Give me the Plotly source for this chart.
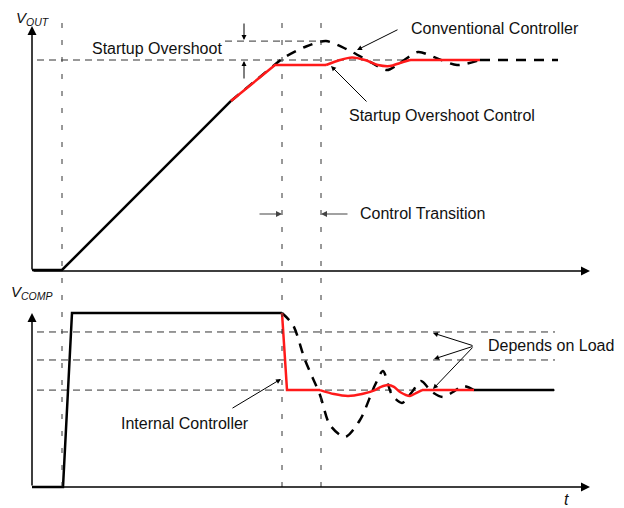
import plotly.graph_objects as go

# page window is 624x508; the browser body has an 8px margin, so the figure
# occupies the window from (8, 8) to (624, 508)
WIN_W, WIN_H = 624, 508
OFF = 8
W, H = WIN_W - OFF, WIN_H - OFF

# ---------------- data (t: arbitrary time units, voltages normalised) ----------------
# Top panel : V_OUT
t_out_startup = [0.0, 3.0, 19.9]
v_out_startup = [0.0, 0.0, 0.805]

t_out_ctrl_ramp = [19.9, 24.3, 29.4]
v_out_ctrl_ramp = [0.805, 0.976, 0.976]

t_out_ctrl_settle = [29.4, 30.8, 32.0, 33.3, 34.6, 35.8, 36.8, 37.8]
v_out_ctrl_settle = [0.976, 1.0, 1.012, 1.0, 0.976, 0.971, 0.986, 1.0]

t_out_ctrl_flat = [37.8, 44.8]
v_out_ctrl_flat = [1.0, 1.0]

t_out_conv = [19.9, 22.3, 25.3, 27.3, 29.4, 31.6, 34.0, 35.5, 36.8, 38.6, 40.4, 42.5, 44.8]
v_out_conv = [0.805, 0.9, 1.014, 1.062, 1.090, 1.048, 0.986, 0.952, 0.986, 1.038, 1.010, 0.976, 1.0]

t_out_conv_flat = [44.8, 52.6]
v_out_conv_flat = [1.0, 1.0]

out_levels = [1.0, 1.09]
out_level_spans = [[0.5, 44.8], [19.3, 29.0]]

# Bottom panel : V_COMP
t_comp_startup = [0.0, 3.1, 4.0, 25.0]
v_comp_startup = [0.0, 0.0, 1.0, 1.0]

t_comp_ctrl_drop = [25.0, 25.5, 28.8]
v_comp_ctrl_drop = [1.0, 0.557, 0.557]

t_comp_ctrl_settle = [28.8, 30.2, 31.6, 33.0, 34.3, 34.9, 35.6, 36.2, 36.8, 37.8, 38.4, 39.0]
v_comp_ctrl_settle = [0.557, 0.534, 0.523, 0.534, 0.557, 0.575, 0.586, 0.575, 0.546, 0.523, 0.540, 0.557]

t_comp_ctrl_flat = [39.0, 44.2]
v_comp_ctrl_flat = [0.557, 0.557]

t_comp_final = [44.2, 52.2]
v_comp_final = [0.557, 0.557]

t_comp_conv = [25.0, 26.1, 27.3, 28.8, 29.8, 31.3, 32.8, 34.3, 35.1, 36.0, 37.0, 38.0, 38.9, 40.0, 41.1, 42.1, 43.1, 44.2]
v_comp_conv = [1.0, 0.931, 0.730, 0.529, 0.356, 0.287, 0.385, 0.586, 0.667, 0.529, 0.483, 0.546, 0.609, 0.546, 0.517, 0.546, 0.580, 0.557]

comp_levels = [0.891, 0.730, 0.557]
comp_level_span = [0.5, 52.3]

event_times = [3.0, 25.0, 28.9]

# ---------------- layout helpers (pixel frame of the drawing) ----------------
X0_PX, PX_PER_T = 32, 10.0
OUT_ZERO_PX, OUT_UNIT_PX = 270, 210
COMP_ZERO_PX, COMP_UNIT_PX = 487, 174

x_range = [(OFF - X0_PX) / PX_PER_T, (WIN_W - X0_PX) / PX_PER_T]
y_out_range = [(OUT_ZERO_PX - WIN_H) / OUT_UNIT_PX, (OUT_ZERO_PX - OFF) / OUT_UNIT_PX]
y_comp_range = [(COMP_ZERO_PX - WIN_H) / COMP_UNIT_PX, (COMP_ZERO_PX - OFF) / COMP_UNIT_PX]


def P(px, py):
    return (px - OFF) / W, 1 - (py - OFF) / H


RED = "#ff1a1a"
BLK = "#000000"
REF = "#333333"
FONT = "Liberation Sans, Arial, Helvetica, sans-serif"

fig = go.Figure()

# reference dashed levels
for lvl, span in zip(out_levels, out_level_spans):
    fig.add_trace(go.Scatter(x=span, y=[lvl, lvl], mode="lines", yaxis="y",
                             line=dict(color=REF, width=1, dash="7px,5px"), hoverinfo="skip"))
for lvl in comp_levels:
    fig.add_trace(go.Scatter(x=comp_level_span, y=[lvl, lvl], mode="lines", yaxis="y2",
                             line=dict(color=REF, width=1, dash="7px,5px"), hoverinfo="skip"))

for te in event_times:
    fig.add_shape(type="line", xref="x", yref="paper", x0=te, x1=te,
                  y0=P(0, 487)[1], y1=P(0, 20)[1],
                  line=dict(color=REF, width=1, dash="5px,12px"))


def line(t, v, axis, color, width=2.5, dash="solid", shape="linear"):
    fig.add_trace(go.Scatter(x=t, y=v, mode="lines", yaxis=axis,
                             line=dict(color=color, width=width, dash=dash, shape=shape,
                                       smoothing=0.8),
                             hoverinfo="skip"))


# top panel curves
line(t_out_conv, v_out_conv, "y", BLK, dash="10px,8px", shape="spline")
line(t_out_conv_flat, v_out_conv_flat, "y", BLK, dash="10px,8px")
line(t_out_startup, v_out_startup, "y", BLK)
line(t_out_ctrl_ramp, v_out_ctrl_ramp, "y", RED)
line(t_out_ctrl_settle, v_out_ctrl_settle, "y", RED, shape="spline")
line(t_out_ctrl_flat, v_out_ctrl_flat, "y", RED)

# bottom panel curves
line(t_comp_conv, v_comp_conv, "y2", BLK, dash="10px,8px", shape="spline")
line(t_comp_startup, v_comp_startup, "y2", BLK)
line(t_comp_final, v_comp_final, "y2", BLK)
line(t_comp_ctrl_drop, v_comp_ctrl_drop, "y2", RED)
line(t_comp_ctrl_settle, v_comp_ctrl_settle, "y2", RED, shape="spline")
line(t_comp_ctrl_flat, v_comp_ctrl_flat, "y2", RED)

annotations = []


def arrow(tip, tail, color=BLK, width=1.0, head=2, size=1.0):
    x, y = P(*tip)
    annotations.append(dict(x=x, y=y, xref="paper", yref="paper", text="",
                            showarrow=True, ax=tail[0] - tip[0], ay=tail[1] - tip[1],
                            axref="pixel", ayref="pixel", arrowhead=head,
                            arrowsize=size, arrowwidth=width, arrowcolor=color,
                            standoff=0, startstandoff=0))


def label(px, py, text, size=16, anchor="left"):
    x, y = P(px, py)
    annotations.append(dict(x=x, y=y, xref="paper", yref="paper", text=text,
                            showarrow=False, xanchor=anchor, yanchor="middle",
                            font=dict(family=FONT, size=size, color="#111111")))


# axes arrows
arrow((32, 26), (32, 271), width=1.5, head=2, size=1.2)
arrow((590, 271), (32, 271), width=1.5, head=2, size=1.2)
arrow((32, 313), (32, 487), width=1.5, head=2, size=1.2)
arrow((590, 487), (32, 487), width=1.5, head=2, size=1.2)

# annotation arrows
arrow((244, 40), (244, 22), size=1.0)
arrow((244, 61), (244, 80), size=1.0)
arrow((357, 50), (399, 29))
arrow((331, 66), (368, 103))
arrow((282, 214), (258, 214), color="#444444", width=1.2)
arrow((321, 214), (349, 214), color="#444444", width=1.2)
arrow((433, 333), (474, 346))
arrow((434, 359), (474, 346))
arrow((433, 389), (474, 346))
arrow((281, 379), (231, 409))

# texts
label(33, 18, "<i>V<sub>OUT</sub></i>", size=15, anchor="center")
label(32, 292, "<i>V<sub>COMP</sub></i>", size=15, anchor="center")
label(566, 499, "<i>t</i>", size=16, anchor="center")
label(90, 49, "Startup Overshoot")
label(409, 28, "Conventional Controller")
label(347, 116, "Startup Overshoot Control")
label(358, 214, "Control Transition")
label(486, 345, "Depends on Load")
label(119, 423, "Internal Controller")

fig.update_layout(
    width=W, height=H,
    margin=dict(l=0, r=0, t=0, b=0),
    paper_bgcolor="white", plot_bgcolor="white",
    showlegend=False,
    xaxis=dict(range=x_range, visible=False, fixedrange=True),
    yaxis=dict(range=y_out_range, visible=False, fixedrange=True),
    yaxis2=dict(range=y_comp_range, visible=False, overlaying="y", fixedrange=True),
    annotations=annotations,
)

fig.write_html("out.html")
